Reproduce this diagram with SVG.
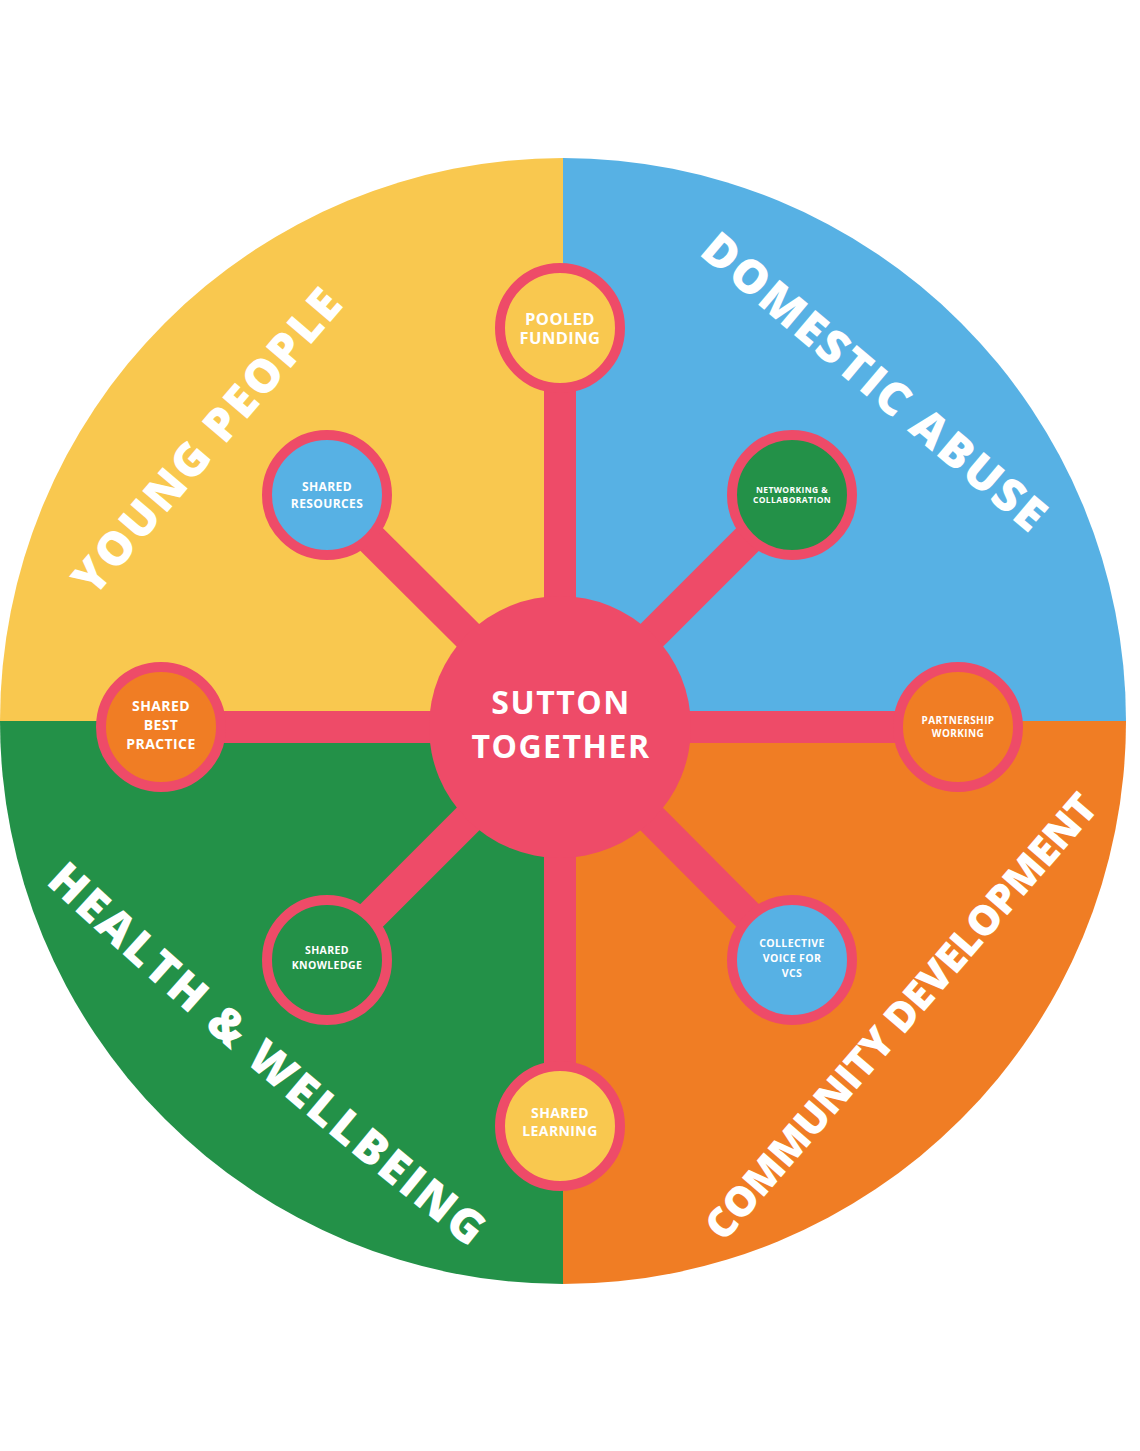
<svg xmlns="http://www.w3.org/2000/svg" width="1140" height="1451" viewBox="0 0 1140 1451">
<style>
.t{font-family:"Open Sans","Liberation Sans",sans-serif;font-weight:700;fill:#FFFFFF;text-anchor:middle;letter-spacing:0.4px}
.q{font-family:"Open Sans","Liberation Sans",sans-serif;font-weight:800;fill:#FFFFFF;font-size:46px}
.ring{stroke:#EE4B68;stroke-width:10}
.con{stroke:#EE4B68;stroke-width:32;fill:none}
</style>
<defs>
<path id="p-young" d="M94,598 L349,300"/>
<path id="p-dom" d="M698,254 L1032,536"/>
<path id="p-health" d="M45,883 Q250,1074 472,1250"/>
<path id="p-comm" d="M724,1243 L1102,806"/>
</defs>
<rect width="1140" height="1451" fill="#FFFFFF"/>
<g id="quadrants">
<path d="M563,721 L0,721 A563,563 0 0 1 563,158 Z" fill="#F9C84F"/>
<path d="M563,721 L563,158 A563,563 0 0 1 1126,721 Z" fill="#57B1E4"/>
<path d="M563,721 L1126,721 A563,563 0 0 1 563,1284 Z" fill="#F07D24"/>
<path d="M563,721 L563,1284 A563,563 0 0 1 0,721 Z" fill="#239148"/>
</g>
<g id="quadrant-labels">
<text class="q"><textPath href="#p-young" textLength="385">YOUNG PEOPLE</textPath></text>
<text class="q"><textPath href="#p-dom" textLength="434">DOMESTIC ABUSE</textPath></text>
<text class="q"><textPath href="#p-health" textLength="560">HEALTH &amp; WELLBEING</textPath></text>
<text class="q" style="font-size:41px"><textPath href="#p-comm" textLength="574">COMMUNITY DEVELOPMENT</textPath></text>
</g>
<g id="connectors">
<line class="con" x1="560" y1="727" x2="560" y2="328"/>
<line class="con" x1="560" y1="727" x2="560" y2="1126"/>
<line class="con" x1="560" y1="727" x2="161" y2="727"/>
<line class="con" x1="560" y1="727" x2="958" y2="727"/>
<line class="con" x1="560" y1="727" x2="327" y2="495"/>
<line class="con" x1="560" y1="727" x2="792" y2="495"/>
<line class="con" x1="560" y1="727" x2="327" y2="960"/>
<line class="con" x1="560" y1="727" x2="792" y2="960"/>
</g>
<g id="node-center">
<circle cx="560" cy="727" r="131" fill="#EE4B68"/>
<text class="t" x="561" y="714" font-size="32" font-weight="800" style="letter-spacing:1.5px">SUTTON</text>
<text class="t" x="561" y="758" font-size="32" font-weight="800" style="letter-spacing:1.5px">TOGETHER</text>
</g>
<g id="node-pooled-funding">
<circle class="ring" cx="560" cy="328" r="60" fill="#F9C84F"/>
<text class="t" x="560" y="325" font-size="16.5">POOLED</text>
<text class="t" x="560" y="344" font-size="16.5">FUNDING</text>
</g>
<g id="node-shared-resources">
<circle class="ring" cx="327" cy="495" r="60" fill="#57B1E4"/>
<text class="t" x="327" y="491" font-size="12">SHARED</text>
<text class="t" x="327" y="508" font-size="12">RESOURCES</text>
</g>
<g id="node-networking">
<circle class="ring" cx="792" cy="495" r="60" fill="#239148"/>
<text class="t" x="792" y="493" font-size="8.5">NETWORKING &amp;</text>
<text class="t" x="792" y="503" font-size="8.5">COLLABORATION</text>
</g>
<g id="node-shared-best-practice">
<circle class="ring" cx="161" cy="727" r="60" fill="#F07D24"/>
<text class="t" x="161" y="711" font-size="14">SHARED</text>
<text class="t" x="161" y="730" font-size="14">BEST</text>
<text class="t" x="161" y="749" font-size="14">PRACTICE</text>
</g>
<g id="node-partnership-working">
<circle class="ring" cx="958" cy="727" r="60" fill="#F07D24"/>
<text class="t" x="958" y="724" font-size="10">PARTNERSHIP</text>
<text class="t" x="958" y="737" font-size="10">WORKING</text>
</g>
<g id="node-shared-knowledge">
<circle class="ring" cx="327" cy="960" r="60" fill="#239148"/>
<text class="t" x="327" y="954" font-size="10.5">SHARED</text>
<text class="t" x="327" y="969" font-size="10.5">KNOWLEDGE</text>
</g>
<g id="node-collective-voice">
<circle class="ring" cx="792" cy="960" r="60" fill="#57B1E4"/>
<text class="t" x="792" y="947" font-size="10.5">COLLECTIVE</text>
<text class="t" x="792" y="962" font-size="10.5">VOICE FOR</text>
<text class="t" x="792" y="977" font-size="10.5">VCS</text>
</g>
<g id="node-shared-learning">
<circle class="ring" cx="560" cy="1126" r="60" fill="#F9C84F"/>
<text class="t" x="560" y="1118" font-size="14">SHARED</text>
<text class="t" x="560" y="1136" font-size="14">LEARNING</text>
</g>
</svg>
